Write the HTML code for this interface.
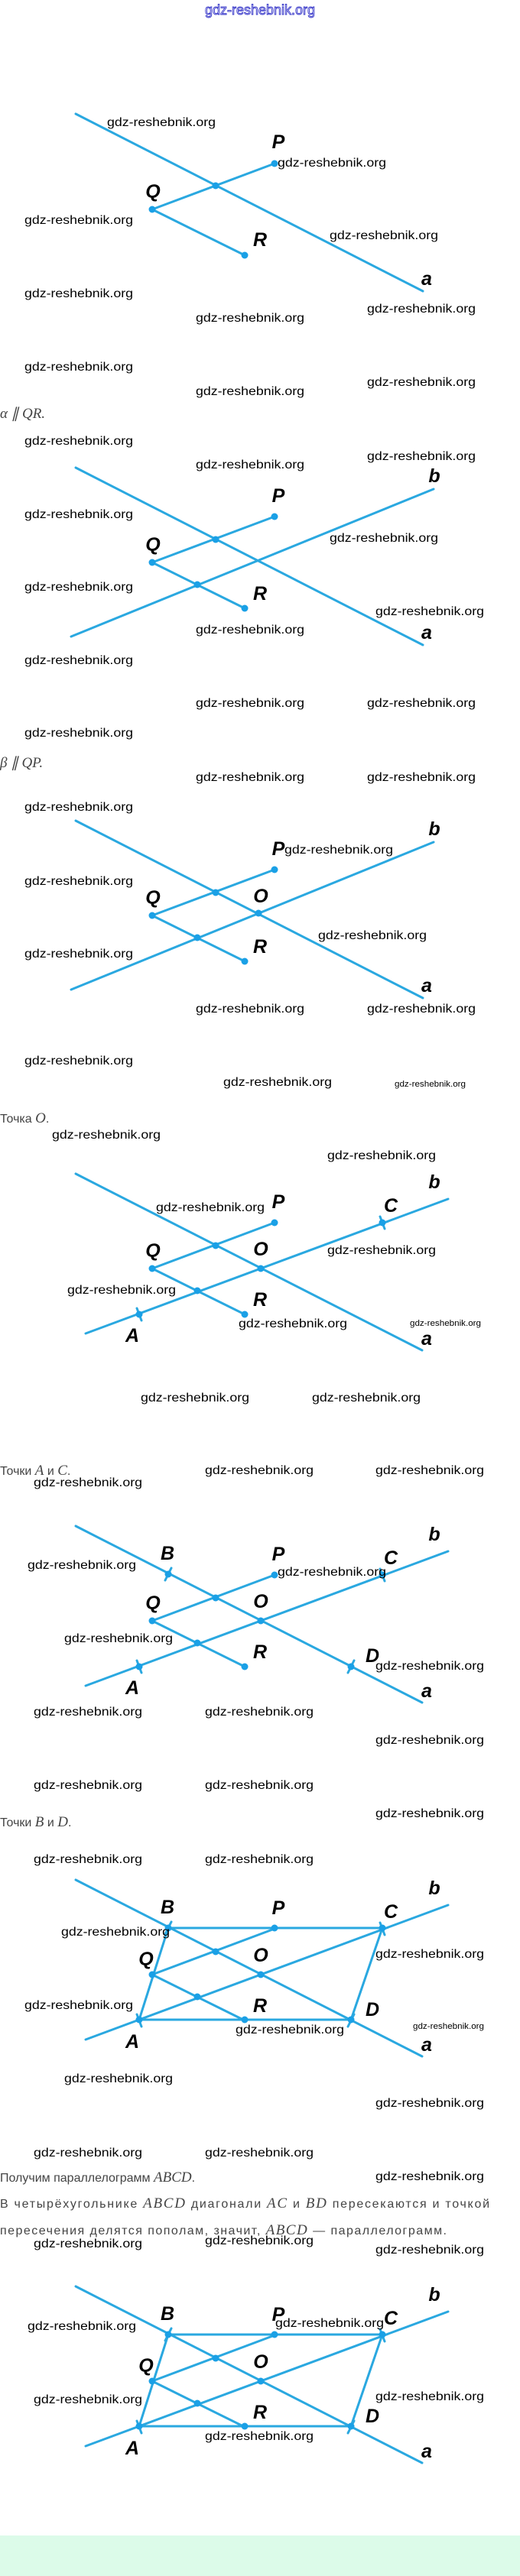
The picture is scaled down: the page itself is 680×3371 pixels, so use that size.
<!DOCTYPE html>
<html><head><meta charset="utf-8"><style>
html,body{margin:0;padding:0;background:#fff;}
svg{display:block;}
.w{font-family:"Liberation Sans",sans-serif;font-size:16px;fill:#000;}
.ws{font-family:"Liberation Sans",sans-serif;font-size:11px;fill:#000;}
.l{font-family:"Liberation Sans",sans-serif;font-size:25px;font-style:italic;font-weight:bold;fill:#000;text-anchor:middle;}
.c{font-family:"Liberation Sans",sans-serif;font-size:16px;fill:#444;}
.m{font-family:"Liberation Serif",serif;font-style:italic;font-size:19px;fill:#444;}
.ln{stroke:#2aa8e0;stroke-width:3;fill:none;stroke-linecap:round;}
.pt{fill:#1aa0e6;}
</style></head><body>
<svg width="680" height="3371" viewBox="0 0 680 3371" xmlns="http://www.w3.org/2000/svg">
<rect x="0" y="0" width="680" height="3371" fill="#fff"/>
<rect x="0" y="3318" width="680" height="53" fill="#dcfbe9"/>
<text x="268" y="19" font-family="Liberation Sans,sans-serif" font-size="18" fill="#fff" stroke="#3434c8" stroke-width="0.9" textLength="144" lengthAdjust="spacingAndGlyphs">gdz-reshebnik.org</text>

<!-- Diagram 1 -->
<g>
<line class="ln" x1="99" y1="149" x2="553" y2="381"/>
<line class="ln" x1="199" y1="274" x2="359" y2="214"/>
<line class="ln" x1="199" y1="274" x2="320" y2="334"/>
<circle class="pt" cx="359" cy="214" r="4.5"/><circle class="pt" cx="199" cy="274" r="4.5"/><circle class="pt" cx="320" cy="334" r="4.5"/><circle class="pt" cx="282" cy="243" r="4.5"/>
<text class="l" x="364" y="194">P</text><text class="l" x="200" y="259">Q</text><text class="l" x="340" y="322">R</text><text class="l" x="558" y="373">a</text>
</g>
<text class="m" x="0" y="547">α ∥ QR.</text>

<!-- Diagram 2 -->
<g transform="translate(0,463)">
<line class="ln" x1="99" y1="149" x2="553" y2="381"/>
<line class="ln" x1="93" y1="370" x2="567" y2="177"/>
<line class="ln" x1="199" y1="273" x2="359" y2="213"/>
<line class="ln" x1="199" y1="273" x2="320" y2="333"/>
<circle class="pt" cx="359" cy="213" r="4.5"/><circle class="pt" cx="199" cy="273" r="4.5"/><circle class="pt" cx="320" cy="333" r="4.5"/><circle class="pt" cx="282" cy="243" r="4.5"/><circle class="pt" cx="258" cy="302" r="4.5"/>
<text class="l" x="364" y="194">P</text><text class="l" x="200" y="258">Q</text><text class="l" x="340" y="322">R</text><text class="l" x="558" y="373">a</text><text class="l" x="568" y="168">b</text>
</g>
<text class="m" x="0" y="1004">β ∥ QP.</text>

<!-- Diagram 3 -->
<g transform="translate(0,925)">
<line class="ln" x1="99" y1="149" x2="553" y2="381"/>
<line class="ln" x1="93" y1="370" x2="567" y2="177"/>
<line class="ln" x1="199" y1="273" x2="359" y2="213"/>
<line class="ln" x1="199" y1="273" x2="320" y2="333"/>
<circle class="pt" cx="359" cy="213" r="4.5"/><circle class="pt" cx="199" cy="273" r="4.5"/><circle class="pt" cx="320" cy="333" r="4.5"/><circle class="pt" cx="282" cy="243" r="4.5"/><circle class="pt" cx="258" cy="302" r="4.5"/><circle class="pt" cx="338" cy="270" r="4.5"/>
<text class="l" x="364" y="194">P</text><text class="l" x="200" y="258">Q</text><text class="l" x="340" y="322">R</text><text class="l" x="558" y="373">a</text><text class="l" x="568" y="168">b</text><text class="l" x="341" y="256">O</text>
</g>
<text class="c" x="0" y="1469">Точка <tspan class="m">O</tspan>.</text>

<!-- Diagram 4 -->
<g transform="translate(0,1387)">
<line class="ln" x1="99" y1="149" x2="552" y2="380"/>
<line class="ln" x1="112" y1="358" x2="586" y2="182"/>
<line class="ln" x1="199" y1="273" x2="359" y2="213"/>
<line class="ln" x1="199" y1="273" x2="320" y2="333"/>
<line class="ln" x1="179" y1="325" x2="185" y2="341" stroke-width="2"/>
<line class="ln" x1="497" y1="205" x2="503" y2="221" stroke-width="2"/>
<circle class="pt" cx="359" cy="213" r="4.5"/><circle class="pt" cx="199" cy="273" r="4.5"/><circle class="pt" cx="320" cy="333" r="4.5"/><circle class="pt" cx="282" cy="243" r="4.5"/><circle class="pt" cx="258" cy="302" r="4.5"/><circle class="pt" cx="341" cy="273" r="4.5"/><circle class="pt" cx="182" cy="333" r="4.5"/><circle class="pt" cx="500" cy="213" r="4.5"/>
<text class="l" x="364" y="194">P</text><text class="l" x="200" y="258">Q</text><text class="l" x="340" y="322">R</text><text class="l" x="558" y="373">a</text><text class="l" x="568" y="168">b</text><text class="l" x="341" y="256">O</text><text class="l" x="511" y="199">C</text><text class="l" x="173" y="369">A</text>
</g>
<text class="c" x="0" y="1930">Точки <tspan class="m">A</tspan> и <tspan class="m">C</tspan>.</text>

<!-- Diagram 5 -->
<g transform="translate(0,1848)">
<line class="ln" x1="99" y1="149" x2="552" y2="380"/>
<line class="ln" x1="112" y1="358" x2="586" y2="182"/>
<line class="ln" x1="199" y1="273" x2="359" y2="213"/>
<line class="ln" x1="199" y1="273" x2="320" y2="333"/>
<line class="ln" x1="179" y1="325" x2="185" y2="341" stroke-width="2"/>
<line class="ln" x1="497" y1="205" x2="503" y2="221" stroke-width="2"/>
<line class="ln" x1="224" y1="204" x2="216" y2="220" stroke-width="2"/>
<line class="ln" x1="463" y1="325" x2="455" y2="341" stroke-width="2"/>
<circle class="pt" cx="359" cy="213" r="4.5"/><circle class="pt" cx="199" cy="273" r="4.5"/><circle class="pt" cx="320" cy="333" r="4.5"/><circle class="pt" cx="282" cy="243" r="4.5"/><circle class="pt" cx="258" cy="302" r="4.5"/><circle class="pt" cx="341" cy="273" r="4.5"/><circle class="pt" cx="182" cy="333" r="4.5"/><circle class="pt" cx="500" cy="213" r="4.5"/><circle class="pt" cx="220" cy="212" r="4.5"/><circle class="pt" cx="459" cy="333" r="4.5"/>
<text class="l" x="364" y="194">P</text><text class="l" x="200" y="258">Q</text><text class="l" x="340" y="322">R</text><text class="l" x="558" y="373">a</text><text class="l" x="568" y="168">b</text><text class="l" x="341" y="256">O</text><text class="l" x="511" y="199">C</text><text class="l" x="173" y="369">A</text><text class="l" x="219" y="193">B</text><text class="l" x="487" y="327">D</text>
</g>
<text class="c" x="0" y="2390">Точки <tspan class="m">B</tspan> и <tspan class="m">D</tspan>.</text>

<!-- Diagram 6 -->
<g transform="translate(0,2311)">
<line class="ln" x1="99" y1="149" x2="552" y2="380"/>
<line class="ln" x1="112" y1="358" x2="586" y2="182"/>
<line class="ln" x1="199" y1="273" x2="359" y2="213"/>
<line class="ln" x1="199" y1="273" x2="320" y2="333"/>
<polygon class="ln" points="182,332 220,212 500,212 459,332"/>
<line class="ln" x1="179" y1="325" x2="185" y2="341" stroke-width="2"/>
<line class="ln" x1="497" y1="205" x2="503" y2="221" stroke-width="2"/>
<line class="ln" x1="224" y1="204" x2="216" y2="220" stroke-width="2"/>
<line class="ln" x1="463" y1="325" x2="455" y2="341" stroke-width="2"/>
<circle class="pt" cx="359" cy="212" r="4.5"/><circle class="pt" cx="199" cy="273" r="4.5"/><circle class="pt" cx="320" cy="332" r="4.5"/><circle class="pt" cx="282" cy="243" r="4.5"/><circle class="pt" cx="258" cy="302" r="4.5"/><circle class="pt" cx="341" cy="273" r="4.5"/><circle class="pt" cx="182" cy="332" r="4.5"/><circle class="pt" cx="500" cy="212" r="4.5"/><circle class="pt" cx="220" cy="212" r="4.5"/><circle class="pt" cx="459" cy="332" r="4.5"/>
<text class="l" x="364" y="194">P</text><text class="l" x="191" y="261">Q</text><text class="l" x="340" y="322">R</text><text class="l" x="558" y="373">a</text><text class="l" x="568" y="168">b</text><text class="l" x="341" y="256">O</text><text class="l" x="511" y="199">C</text><text class="l" x="173" y="369">A</text><text class="l" x="219" y="193">B</text><text class="l" x="487" y="327">D</text>
</g>

<text class="c" x="0" y="2855">Получим параллелограмм <tspan class="m">ABCD</tspan>.</text>
<text class="c" x="0" y="2889" textLength="640" lengthAdjust="spacing">В четырёхугольнике <tspan class="m">ABCD</tspan> диагонали <tspan class="m">AC</tspan> и <tspan class="m">BD</tspan> пересекаются и точкой</text>
<text class="c" x="0" y="2924" textLength="584" lengthAdjust="spacing">пересечения делятся пополам, значит, <tspan class="m">ABCD</tspan> — параллелограмм.</text>

<!-- Diagram 7 -->
<g transform="translate(0,2843)">
<line class="ln" x1="99" y1="149" x2="552" y2="380"/>
<line class="ln" x1="112" y1="358" x2="586" y2="182"/>
<line class="ln" x1="199" y1="273" x2="359" y2="213"/>
<line class="ln" x1="199" y1="273" x2="320" y2="333"/>
<polygon class="ln" points="182,332 220,212 500,212 459,332"/>
<line class="ln" x1="179" y1="325" x2="185" y2="341" stroke-width="2"/>
<line class="ln" x1="497" y1="205" x2="503" y2="221" stroke-width="2"/>
<line class="ln" x1="224" y1="204" x2="216" y2="220" stroke-width="2"/>
<line class="ln" x1="463" y1="325" x2="455" y2="341" stroke-width="2"/>
<circle class="pt" cx="359" cy="212" r="4.5"/><circle class="pt" cx="199" cy="273" r="4.5"/><circle class="pt" cx="320" cy="332" r="4.5"/><circle class="pt" cx="282" cy="243" r="4.5"/><circle class="pt" cx="258" cy="302" r="4.5"/><circle class="pt" cx="341" cy="273" r="4.5"/><circle class="pt" cx="182" cy="332" r="4.5"/><circle class="pt" cx="500" cy="212" r="4.5"/><circle class="pt" cx="220" cy="212" r="4.5"/><circle class="pt" cx="459" cy="332" r="4.5"/>
<text class="l" x="364" y="194">P</text><text class="l" x="191" y="261">Q</text><text class="l" x="340" y="322">R</text><text class="l" x="558" y="373">a</text><text class="l" x="568" y="168">b</text><text class="l" x="341" y="256">O</text><text class="l" x="511" y="199">C</text><text class="l" x="173" y="369">A</text><text class="l" x="219" y="193">B</text><text class="l" x="487" y="327">D</text>
</g>

<!-- watermarks -->
<g class="w">
<text x="140" y="165" textLength="142" lengthAdjust="spacingAndGlyphs">gdz-reshebnik.org</text>
<text x="363" y="218" textLength="142" lengthAdjust="spacingAndGlyphs">gdz-reshebnik.org</text>
<text x="32" y="293" textLength="142" lengthAdjust="spacingAndGlyphs">gdz-reshebnik.org</text>
<text x="431" y="313" textLength="142" lengthAdjust="spacingAndGlyphs">gdz-reshebnik.org</text>
<text x="32" y="389" textLength="142" lengthAdjust="spacingAndGlyphs">gdz-reshebnik.org</text>
<text x="480" y="409" textLength="142" lengthAdjust="spacingAndGlyphs">gdz-reshebnik.org</text>
<text x="256" y="421" textLength="142" lengthAdjust="spacingAndGlyphs">gdz-reshebnik.org</text>
<text x="32" y="485" textLength="142" lengthAdjust="spacingAndGlyphs">gdz-reshebnik.org</text>
<text x="480" y="505" textLength="142" lengthAdjust="spacingAndGlyphs">gdz-reshebnik.org</text>
<text x="256" y="517" textLength="142" lengthAdjust="spacingAndGlyphs">gdz-reshebnik.org</text>

<text x="32" y="582" textLength="142" lengthAdjust="spacingAndGlyphs">gdz-reshebnik.org</text>
<text x="256" y="613" textLength="142" lengthAdjust="spacingAndGlyphs">gdz-reshebnik.org</text>
<text x="480" y="602" textLength="142" lengthAdjust="spacingAndGlyphs">gdz-reshebnik.org</text>
<text x="32" y="678" textLength="142" lengthAdjust="spacingAndGlyphs">gdz-reshebnik.org</text>
<text x="431" y="709" textLength="142" lengthAdjust="spacingAndGlyphs">gdz-reshebnik.org</text>
<text x="32" y="773" textLength="142" lengthAdjust="spacingAndGlyphs">gdz-reshebnik.org</text>
<text x="491" y="805" textLength="142" lengthAdjust="spacingAndGlyphs">gdz-reshebnik.org</text>
<text x="256" y="829" textLength="142" lengthAdjust="spacingAndGlyphs">gdz-reshebnik.org</text>
<text x="32" y="869" textLength="142" lengthAdjust="spacingAndGlyphs">gdz-reshebnik.org</text>
<text x="256" y="925" textLength="142" lengthAdjust="spacingAndGlyphs">gdz-reshebnik.org</text>
<text x="480" y="925" textLength="142" lengthAdjust="spacingAndGlyphs">gdz-reshebnik.org</text>
<text x="32" y="964" textLength="142" lengthAdjust="spacingAndGlyphs">gdz-reshebnik.org</text>

<text x="256" y="1022" textLength="142" lengthAdjust="spacingAndGlyphs">gdz-reshebnik.org</text>
<text x="480" y="1022" textLength="142" lengthAdjust="spacingAndGlyphs">gdz-reshebnik.org</text>
<text x="32" y="1061" textLength="142" lengthAdjust="spacingAndGlyphs">gdz-reshebnik.org</text>
<text x="372" y="1117" textLength="142" lengthAdjust="spacingAndGlyphs">gdz-reshebnik.org</text>
<text x="32" y="1158" textLength="142" lengthAdjust="spacingAndGlyphs">gdz-reshebnik.org</text>
<text x="416" y="1229" textLength="142" lengthAdjust="spacingAndGlyphs">gdz-reshebnik.org</text>
<text x="32" y="1253" textLength="142" lengthAdjust="spacingAndGlyphs">gdz-reshebnik.org</text>
<text x="256" y="1325" textLength="142" lengthAdjust="spacingAndGlyphs">gdz-reshebnik.org</text>
<text x="480" y="1325" textLength="142" lengthAdjust="spacingAndGlyphs">gdz-reshebnik.org</text>
<text x="32" y="1393" textLength="142" lengthAdjust="spacingAndGlyphs">gdz-reshebnik.org</text>
<text x="292" y="1421" textLength="142" lengthAdjust="spacingAndGlyphs">gdz-reshebnik.org</text>

<text x="68" y="1490" textLength="142" lengthAdjust="spacingAndGlyphs">gdz-reshebnik.org</text>
<text x="428" y="1517" textLength="142" lengthAdjust="spacingAndGlyphs">gdz-reshebnik.org</text>
<text x="204" y="1585" textLength="142" lengthAdjust="spacingAndGlyphs">gdz-reshebnik.org</text>
<text x="428" y="1641" textLength="142" lengthAdjust="spacingAndGlyphs">gdz-reshebnik.org</text>
<text x="88" y="1693" textLength="142" lengthAdjust="spacingAndGlyphs">gdz-reshebnik.org</text>
<text x="312" y="1737" textLength="142" lengthAdjust="spacingAndGlyphs">gdz-reshebnik.org</text>
<text x="184" y="1834" textLength="142" lengthAdjust="spacingAndGlyphs">gdz-reshebnik.org</text>
<text x="408" y="1834" textLength="142" lengthAdjust="spacingAndGlyphs">gdz-reshebnik.org</text>
<text x="268" y="1929" textLength="142" lengthAdjust="spacingAndGlyphs">gdz-reshebnik.org</text>
<text x="491" y="1929" textLength="142" lengthAdjust="spacingAndGlyphs">gdz-reshebnik.org</text>
<text x="44" y="1945" textLength="142" lengthAdjust="spacingAndGlyphs">gdz-reshebnik.org</text>

<text x="36" y="2053" textLength="142" lengthAdjust="spacingAndGlyphs">gdz-reshebnik.org</text>
<text x="363" y="2062" textLength="142" lengthAdjust="spacingAndGlyphs">gdz-reshebnik.org</text>
<text x="84" y="2149" textLength="142" lengthAdjust="spacingAndGlyphs">gdz-reshebnik.org</text>
<text x="491" y="2185" textLength="142" lengthAdjust="spacingAndGlyphs">gdz-reshebnik.org</text>
<text x="44" y="2245" textLength="142" lengthAdjust="spacingAndGlyphs">gdz-reshebnik.org</text>
<text x="268" y="2245" textLength="142" lengthAdjust="spacingAndGlyphs">gdz-reshebnik.org</text>
<text x="491" y="2282" textLength="142" lengthAdjust="spacingAndGlyphs">gdz-reshebnik.org</text>
<text x="44" y="2341" textLength="142" lengthAdjust="spacingAndGlyphs">gdz-reshebnik.org</text>
<text x="268" y="2341" textLength="142" lengthAdjust="spacingAndGlyphs">gdz-reshebnik.org</text>
<text x="491" y="2378" textLength="142" lengthAdjust="spacingAndGlyphs">gdz-reshebnik.org</text>

<text x="44" y="2438" textLength="142" lengthAdjust="spacingAndGlyphs">gdz-reshebnik.org</text>
<text x="268" y="2438" textLength="142" lengthAdjust="spacingAndGlyphs">gdz-reshebnik.org</text>
<text x="80" y="2533" textLength="142" lengthAdjust="spacingAndGlyphs">gdz-reshebnik.org</text>
<text x="491" y="2562" textLength="142" lengthAdjust="spacingAndGlyphs">gdz-reshebnik.org</text>
<text x="32" y="2629" textLength="142" lengthAdjust="spacingAndGlyphs">gdz-reshebnik.org</text>
<text x="308" y="2661" textLength="142" lengthAdjust="spacingAndGlyphs">gdz-reshebnik.org</text>
<text x="84" y="2725" textLength="142" lengthAdjust="spacingAndGlyphs">gdz-reshebnik.org</text>
<text x="491" y="2757" textLength="142" lengthAdjust="spacingAndGlyphs">gdz-reshebnik.org</text>
<text x="44" y="2822" textLength="142" lengthAdjust="spacingAndGlyphs">gdz-reshebnik.org</text>
<text x="268" y="2822" textLength="142" lengthAdjust="spacingAndGlyphs">gdz-reshebnik.org</text>

<text x="491" y="2853" textLength="142" lengthAdjust="spacingAndGlyphs">gdz-reshebnik.org</text>
<text x="44" y="2941" textLength="142" lengthAdjust="spacingAndGlyphs">gdz-reshebnik.org</text>
<text x="268" y="2937" textLength="142" lengthAdjust="spacingAndGlyphs">gdz-reshebnik.org</text>
<text x="491" y="2949" textLength="142" lengthAdjust="spacingAndGlyphs">gdz-reshebnik.org</text>
<text x="36" y="3049" textLength="142" lengthAdjust="spacingAndGlyphs">gdz-reshebnik.org</text>
<text x="360" y="3045" textLength="142" lengthAdjust="spacingAndGlyphs">gdz-reshebnik.org</text>
<text x="44" y="3145" textLength="142" lengthAdjust="spacingAndGlyphs">gdz-reshebnik.org</text>
<text x="491" y="3141" textLength="142" lengthAdjust="spacingAndGlyphs">gdz-reshebnik.org</text>
<text x="268" y="3193" textLength="142" lengthAdjust="spacingAndGlyphs">gdz-reshebnik.org</text>
</g>
<g class="ws">
<text x="516" y="1422" textLength="93" lengthAdjust="spacingAndGlyphs">gdz-reshebnik.org</text>
<text x="536" y="1735" textLength="93" lengthAdjust="spacingAndGlyphs">gdz-reshebnik.org</text>
<text x="540" y="2655" textLength="93" lengthAdjust="spacingAndGlyphs">gdz-reshebnik.org</text>
</g>
</svg>
</body></html>
